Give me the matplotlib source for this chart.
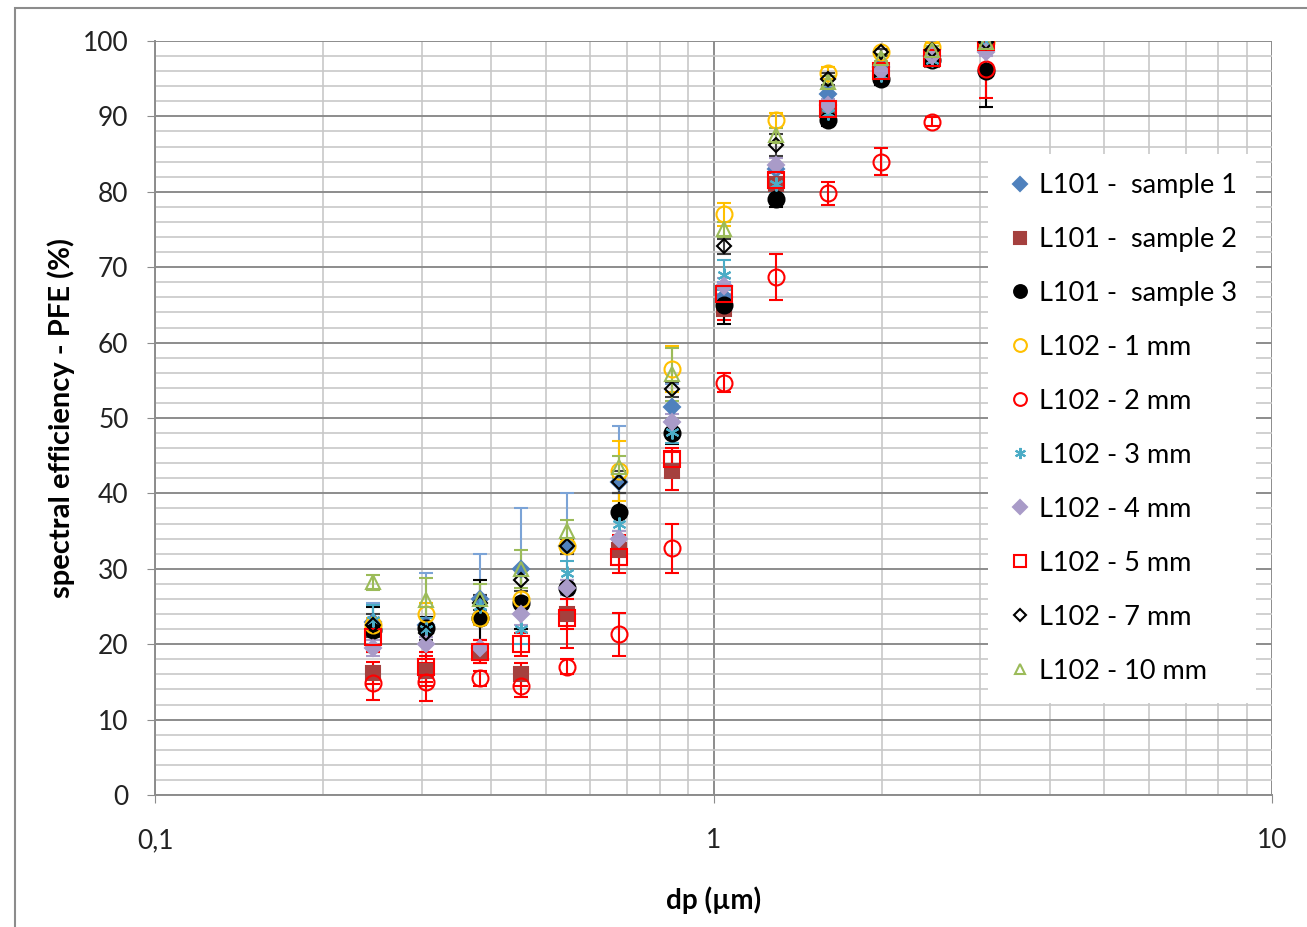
import matplotlib
matplotlib.use("Agg")
import matplotlib.pyplot as plt
from matplotlib.ticker import FixedLocator, FuncFormatter, MultipleLocator
from matplotlib.patches import Rectangle

plt.rcParams["font.family"] = ["Lato", "DejaVu Sans"]

# -------------------------
# Data
# -------------------------
dp = [0.246, 0.305, 0.381, 0.452, 0.546, 0.676, 0.841, 1.042, 1.291, 1.60, 1.99, 2.46, 3.07]

labels = [
    "L101 -  sample 1", "L101 -  sample 2", "L101 -  sample 3",
    "L102 - 1 mm", "L102 - 2 mm", "L102 - 3 mm", "L102 - 4 mm",
    "L102 - 5 mm", "L102 - 7 mm", "L102 - 10 mm",
]

sample1 = [23.0, 22.5, 26.0, 30.0, 33.0, 41.5, 51.5, 66.0, 83.0, 93.0, 96.5, 98.0, 99.8]
sample2 = [16.2, 16.5, 19.0, 16.0, 24.0, 32.5, 43.0, 64.5, 81.0, 90.5, 95.5, 97.5, 99.8]
sample3 = [21.9, 22.1, 23.5, 25.5, 27.5, 37.5, 48.0, 65.0, 79.0, 89.5, 95.0, 97.5, 96.0]
mm1 = [22.5, 24.0, 23.5, 26.0, 33.0, 43.0, 56.5, 77.0, 89.5, 95.8, 98.5, 99.2, 99.8]
mm2 = [14.8, 15.0, 15.5, 14.5, 17.0, 21.3, 32.7, 54.7, 68.7, 79.8, 84.0, 89.3, 96.3]
mm3 = [23.2, 22.0, 25.0, 22.0, 29.5, 36.0, 48.2, 69.0, 81.0, 90.5, 95.5, 97.5, 99.5]
mm4 = [19.5, 20.0, 19.5, 24.0, 27.5, 34.0, 49.5, 67.5, 83.5, 91.5, 96.0, 98.0, 98.5]
mm5 = [21.0, 17.0, 19.0, 20.0, 23.5, 31.5, 44.5, 66.5, 81.5, 91.0, 96.0, 97.8, 99.8]
mm7 = [22.5, 21.5, 25.5, 28.5, 33.0, 41.5, 53.8, 72.8, 86.2, 95.0, 98.5, 98.8, 99.8]
mm10 = [28.2, 25.8, 26.0, 30.0, 35.0, 43.5, 55.8, 75.0, 87.5, 94.5, 97.8, 98.8, 99.8]

err_sample1 = [2.5, 7.0, 6.0, 8.0, 7.0, 7.5, 3.0, 2.0, 1.5, 1.0, 0.8, 0.5, 0.3]
err_sample2 = [1.5, 2.0, 1.5, 1.5, 2.0, 2.0, 2.5, 1.5, 1.0, 1.0, 0.8, 0.5, 0.3]
err_sample3 = [3.0, 1.5, 5.0, 3.5, 1.0, 2.5, 1.5, 2.5, 1.0, 0.8, 0.8, 0.5, 4.8]
err_mm1 = [1.0, 1.5, 1.0, 1.0, 1.0, 4.0, 3.0, 1.5, 1.0, 0.8, 0.5, 0.5, 0.3]
err_mm2 = [2.2, 2.5, 1.0, 1.5, 1.0, 2.8, 3.2, 1.3, 3.0, 1.5, 1.8, 0.6, 3.8]
err_mm3 = [2.0, 1.5, 1.5, 2.0, 1.5, 2.0, 1.5, 2.0, 1.0, 0.8, 0.5, 0.5, 0.3]
err_mm4 = [1.0, 1.0, 1.0, 1.5, 1.0, 1.0, 1.0, 1.0, 1.0, 0.8, 0.5, 0.5, 0.5]
err_mm5 = [2.0, 2.0, 1.5, 1.5, 4.0, 2.0, 1.5, 1.0, 1.0, 0.8, 0.5, 0.5, 0.3]
err_mm7 = [1.5, 1.0, 1.0, 1.5, 1.0, 1.5, 1.0, 1.0, 1.5, 0.8, 0.5, 0.5, 0.3]
err_mm10 = [1.0, 3.0, 2.0, 2.5, 1.5, 1.5, 3.5, 1.0, 1.0, 0.8, 0.5, 0.5, 0.3]

series = [sample1, sample2, sample3, mm1, mm2, mm3, mm4, mm5, mm7, mm10]
errors = [err_sample1, err_sample2, err_sample3, err_mm1, err_mm2,
          err_mm3, err_mm4, err_mm5, err_mm7, err_mm10]

# marker, edge colour, face colour, error colour
styles = [
    ("D", "#4F81BD", "#4F81BD", "#7BA3D6"),
    ("s", "#A5403E", "#A5403E", "#FF0000"),
    ("o", "#000000", "#000000", "#000000"),
    ("o", "#FFC000", "none", "#FFC000"),
    ("o", "#FF0000", "none", "#FF0000"),
    ("x", "#4BACC6", "#4BACC6", "#4BACC6"),
    ("D", "#A99BC8", "#A99BC8", "#A99BC8"),
    ("s", "#FF0000", "none", "#FF0000"),
    ("D", "#000000", "none", "#404040"),
    ("^", "#9BBB59", "none", "#9BBB59"),
]
sizes = [8.5, 10.5, 11.5, 11.5, 11.5, 10, 8.5, 11.5, 7.5, 9.5]

# -------------------------
# Figure
# -------------------------
fig = plt.figure(figsize=(13.07, 9.27), dpi=100)
ax = fig.add_axes([0.1186, 0.1424, 0.855, 0.8134])

for y, e, (m, ec, fc, errc), ms, lab in zip(series, errors, styles, sizes, labels):
    ax.errorbar(dp, y, yerr=e, fmt="none", ecolor=errc, elinewidth=1.5,
                capsize=5, capthick=1.5, zorder=3)
    if m == "x":
        ax.plot(dp, y, linestyle="none", marker=(6, 2, 0), markersize=ms,
                markeredgecolor=ec, markeredgewidth=1.5, label=lab, zorder=4)
    else:
        ax.plot(dp, y, linestyle="none", marker=m, markersize=ms,
                markeredgecolor=ec, markerfacecolor=fc, markeredgewidth=1.5,
                label=lab, zorder=4)

ax.set_xscale("log")
ax.set_xlim(0.1, 10)
ax.set_ylim(0, 100)

ax.yaxis.set_major_locator(MultipleLocator(10))
ax.yaxis.set_minor_locator(MultipleLocator(2))
ax.xaxis.set_major_locator(FixedLocator([0.1, 1, 10]))
ax.xaxis.set_minor_locator(FixedLocator([k * d for d in (0.1, 1) for k in range(2, 10)]))
ax.xaxis.set_major_formatter(FuncFormatter(lambda v, p: {0.1: "0,1", 1: "1", 10: "10"}.get(round(v, 1), "")))
ax.xaxis.set_minor_formatter(FuncFormatter(lambda v, p: ""))

ax.grid(which="major", color="#8C8C8C", linewidth=1.4)
ax.grid(which="minor", color="#C8C8C8", linewidth=1.2)
ax.set_axisbelow(True)

for s in ("top", "right"):
    ax.spines[s].set_visible(False)
for s in ("left", "bottom"):
    ax.spines[s].set_color("#8C8C8C")
    ax.spines[s].set_linewidth(1.4)

ax.tick_params(which="major", direction="out", length=6, color="#8C8C8C",
               labelsize=19, labelcolor="#222222")
ax.tick_params(axis="y", pad=13)
ax.tick_params(axis="x", pad=18)
ax.tick_params(which="minor", length=0)

ax.set_ylabel("spectral efficiency - PFE (%)", fontsize=21, fontweight="bold", labelpad=6)
ax.set_xlabel("dp (µm)", fontsize=20, fontweight="bold", labelpad=24)

leg = ax.legend(loc="upper left", bbox_to_anchor=(0.733, 0.868), fontsize=19.5,
                frameon=True, facecolor="white", edgecolor="none", framealpha=1,
                handletextpad=0.2, handlelength=1.0, labelspacing=1.07,
                borderpad=0.7, markerscale=0.8)
leg.set_zorder(10)

# outer chart frame
fig.add_artist(Rectangle((15 / 1307, -0.01), 1.1, 0.991 + 0.01, transform=fig.transFigure,
                         fill=False, edgecolor="#8C8C8C", linewidth=1.5))

fig.savefig("out.png", dpi=100)
